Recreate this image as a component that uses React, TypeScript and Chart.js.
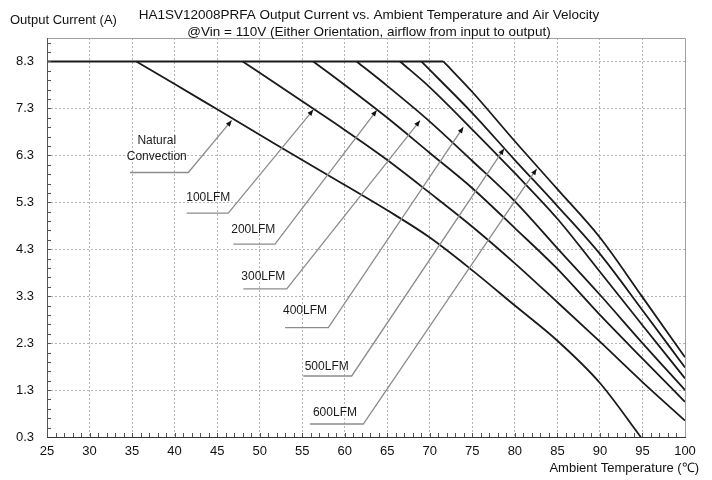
import React, { useEffect, useRef } from 'react';
import { Chart, registerables } from 'chart.js';

Chart.register(...registerables);

// ---- axes ----
const xTickValues = [25, 30, 35, 40, 45, 50, 55, 60, 65, 70, 75, 80, 85, 90, 95, 100];
const yTickValues = [0.3, 1.3, 2.3, 3.3, 4.3, 5.3, 6.3, 7.3, 8.3];
const xMin = 25;
const xMax = 100;
const yMin = 0.3;
const yMax = 8.8;
const ratedCurrent = 8.3;

// ---- derating curves (temperature °C, current A) ----
const naturalT = [35.5, 40, 45, 50, 55, 60, 65, 70, 75, 80, 85, 90, 94.8];
const naturalI = [8.3, 7.82, 7.28, 6.74, 6.2, 5.67, 5.13, 4.55, 3.85, 3.1, 2.35, 1.45, 0.3];

const lfm100T = [48, 50, 55, 60, 65, 70, 75, 80, 85, 90, 95, 100];
const lfm100I = [8.3, 8.06, 7.45, 6.84, 6.2, 5.5, 4.78, 4.0, 3.17, 2.33, 1.47, 0.65];

const lfm200T = [56.3, 60, 65, 70, 75, 80, 85, 90, 95, 100];
const lfm200I = [8.3, 7.8, 7.1, 6.35, 5.6, 4.75, 3.88, 2.9, 1.97, 1.05];

const lfm300T = [61.4, 65, 70, 75, 80, 85, 90, 95, 100];
const lfm300I = [8.3, 7.78, 7.02, 6.18, 5.32, 4.32, 3.33, 2.3, 1.3];

const lfm400T = [66.5, 70, 75, 80, 85, 90, 95, 100];
const lfm400I = [8.3, 7.75, 6.85, 5.92, 4.95, 3.82, 2.68, 1.55];

const lfm500T = [69, 75, 80, 85, 90, 95, 100];
const lfm500I = [8.3, 7.2, 6.2, 5.22, 4.2, 3.0, 1.78];

const lfm600T = [71.6, 75, 80, 85, 90, 95, 100];
const lfm600I = [8.3, 7.65, 6.6, 5.58, 4.55, 3.28, 2.0];

const seriesNames = ['Natural Convection', '100LFM', '200LFM', '300LFM', '400LFM', '500LFM', '600LFM'];
const seriesT = [naturalT, lfm100T, lfm200T, lfm300T, lfm400T, lfm500T, lfm600T];
const seriesI = [naturalI, lfm100I, lfm200I, lfm300I, lfm400I, lfm500I, lfm600I];

// ---- callout labels (data units) ----
const labelTexts = ['Natural\nConvection', '100LFM', '200LFM', '300LFM', '400LFM', '500LFM', '600LFM'];
const labelT = [37.9, 43.96, 49.25, 50.43, 55.33, 57.88, 58.85];
const labelI = [6.44, 5.39, 4.71, 3.72, 2.99, 1.8, 0.82];
const underStartT = [34.76, 41.42, 46.9, 48.08, 52.98, 55.13, 55.92];
const underEndT = [41.61, 46.31, 51.8, 53.18, 58.07, 60.82, 62.18];
const underI = [5.935, 5.07, 4.41, 3.456, 2.63, 1.6, 0.577];
const tipT = [46.71, 56.3, 63.76, 68.85, 73.94, 78.72, 82.56];
const tipI = [7.044, 7.27, 7.26, 7.04, 6.9, 6.44, 6.01];

const titleLines = [
  'HA1SV12008PRFA Output Current vs. Ambient Temperature and Air Velocity',
  '@Vin = 110V (Either Orientation, airflow from input to output)',
];
const yAxisTitle = 'Output Current (A)';
const xAxisTitle = 'Ambient Temperature (\u2103)';

const FONT = '"Liberation Sans", Arial, sans-serif';

const decorPlugin = {
  id: 'decor',
  afterDatasetsDraw(chart: any) {
    const { ctx, chartArea } = chart;
    const xs = chart.scales.x;
    const ys = chart.scales.y;
    const { left, right, top, bottom } = chartArea;
    ctx.save();

    // frame
    ctx.lineWidth = 1;
    ctx.strokeStyle = '#a0a0a0';
    ctx.beginPath();
    ctx.moveTo(left, top + 0.5);
    ctx.lineTo(right + 0.5, top + 0.5);
    ctx.lineTo(right + 0.5, bottom);
    ctx.stroke();

    ctx.strokeStyle = '#555';
    ctx.beginPath();
    ctx.moveTo(left + 0.5, top);
    ctx.lineTo(left + 0.5, bottom);
    ctx.stroke();

    ctx.strokeStyle = '#333';
    ctx.lineWidth = 1.2;
    ctx.beginPath();
    ctx.moveTo(left, bottom + 0.5);
    ctx.lineTo(right + 1, bottom + 0.5);
    ctx.stroke();

    // minor ticks inside
    ctx.lineWidth = 1;
    ctx.strokeStyle = '#555';
    ctx.beginPath();
    for (let t = xMin + 1; t < xMax; t += 1) {
      const px = Math.round(xs.getPixelForValue(t)) + 0.5;
      ctx.moveTo(px, bottom);
      ctx.lineTo(px, bottom - 4);
    }
    for (let k = 1; ; k++) {
      const v = yMin + 0.2 * k;
      if (v > yMax - 0.05) break;
      const py = Math.round(ys.getPixelForValue(v)) + 0.5;
      ctx.moveTo(left, py);
      ctx.lineTo(left + 4, py);
    }
    ctx.stroke();

    // callouts
    for (let i = 0; i < labelTexts.length; i++) {
      const x0 = xs.getPixelForValue(underStartT[i]);
      const x1 = xs.getPixelForValue(underEndT[i]);
      const yu = ys.getPixelForValue(underI[i]);
      const tx = xs.getPixelForValue(tipT[i]);
      const ty = ys.getPixelForValue(tipI[i]);
      ctx.strokeStyle = '#8c8c8c';
      ctx.lineWidth = 1.3;
      ctx.beginPath();
      ctx.moveTo(x0, yu);
      ctx.lineTo(x1, yu);
      ctx.lineTo(tx, ty);
      ctx.stroke();
      const a = Math.atan2(ty - yu, tx - x1);
      const len = 6;
      const w = 2.5;
      const bx = tx - len * Math.cos(a);
      const by = ty - len * Math.sin(a);
      ctx.fillStyle = '#111';
      ctx.beginPath();
      ctx.moveTo(tx, ty);
      ctx.lineTo(bx + w * Math.sin(a), by - w * Math.cos(a));
      ctx.lineTo(bx - w * Math.sin(a), by + w * Math.cos(a));
      ctx.closePath();
      ctx.fill();

      const lines = labelTexts[i].split('\n');
      const cx = xs.getPixelForValue(labelT[i]);
      const cy = ys.getPixelForValue(labelI[i]);
      const lh = 16.5;
      ctx.fillStyle = '#1a1a1a';
      ctx.font = `12px ${FONT}`;
      ctx.textAlign = 'center';
      ctx.textBaseline = 'middle';
      lines.forEach((ln, j) => {
        ctx.fillText(ln, cx, cy + (j - (lines.length - 1) / 2) * lh);
      });
    }

    // titles
    ctx.fillStyle = '#111';
    ctx.font = `13.5px ${FONT}`;
    ctx.textAlign = 'center';
    ctx.textBaseline = 'middle';
    const mid = (left + right) / 2 + 3;
    ctx.fillText(titleLines[0], mid, 15);
    ctx.fillText(titleLines[1], mid, 32);

    ctx.font = `13px ${FONT}`;
    ctx.textAlign = 'left';
    ctx.fillText(yAxisTitle, 10, 20);

    ctx.textAlign = 'right';
    ctx.fillText(xAxisTitle, 699, 468);

    ctx.restore();
  },
};

export default function App() {
  const canvasRef = useRef<HTMLCanvasElement | null>(null);

  useEffect(() => {
    document.body.style.margin = '0';
    const canvas = canvasRef.current;
    if (!canvas) return;

    const flatEnd = Math.max(...seriesT.map((t) => t[0]));
    const datasets: any[] = [
      {
        label: 'rated',
        data: [
          { x: xMin, y: ratedCurrent },
          { x: flatEnd, y: ratedCurrent },
        ],
        borderColor: '#1a1a1a',
        borderWidth: 2,
        pointRadius: 0,
        tension: 0,
      },
    ];
    seriesNames.forEach((name, i) => {
      datasets.push({
        label: name,
        data: seriesT[i].map((t, k) => ({ x: t, y: seriesI[i][k] })),
        borderColor: '#1a1a1a',
        borderWidth: 1.8,
        pointRadius: 0,
        cubicInterpolationMode: 'monotone',
        clip: 2,
      });
    });

    const chart = new Chart(canvas, {
      type: 'line',
      data: { datasets },
      options: {
        animation: false,
        responsive: false,
        devicePixelRatio: 1,
        layout: { padding: { top: 38, right: 27, left: 0, bottom: 0 } },
        plugins: {
          legend: { display: false },
          title: { display: false },
          tooltip: { enabled: false },
        },
        scales: {
          x: {
            type: 'linear',
            min: xMin,
            max: xMax,
            afterBuildTicks: (s: any) => {
              s.ticks = xTickValues.map((v) => ({ value: v }));
            },
            afterFit: (s: any) => {
              s.height = 43;
            },
            ticks: {
              color: '#111',
              font: { family: FONT, size: 13 },
              padding: 7,
              maxRotation: 0,
              autoSkip: false,
              callback: (v: any) => String(v),
            },
            grid: {
              drawTicks: false,
              color: (c: any) =>
                c.tick && (c.tick.value === xMin || c.tick.value === xMax) ? 'rgba(0,0,0,0)' : '#b4b4b4',
              lineWidth: 1,
            },
            border: { display: false, dash: [2, 2] },
          },
          y: {
            type: 'linear',
            min: yMin,
            max: yMax,
            afterBuildTicks: (s: any) => {
              s.ticks = yTickValues.map((v) => ({ value: v }));
            },
            afterFit: (s: any) => {
              s.width = 47;
            },
            ticks: {
              color: '#111',
              font: { family: FONT, size: 13 },
              padding: 13,
              autoSkip: false,
              callback: (v: any) => Number(v).toFixed(1),
            },
            grid: {
              drawTicks: false,
              color: (c: any) =>
                c.tick && Math.abs(c.tick.value - yMin) < 1e-6 ? 'rgba(0,0,0,0)' : '#b4b4b4',
              lineWidth: 1,
            },
            border: { display: false, dash: [2, 2] },
          },
        },
      },
      plugins: [decorPlugin],
    });

    return () => {
      chart.destroy();
    };
  }, []);

  return (
    <div style={{ width: 712, height: 480, background: '#fff' }}>
      <canvas ref={canvasRef} width={712} height={480} style={{ display: 'block', width: 712, height: 480 }} />
    </div>
  );
}
